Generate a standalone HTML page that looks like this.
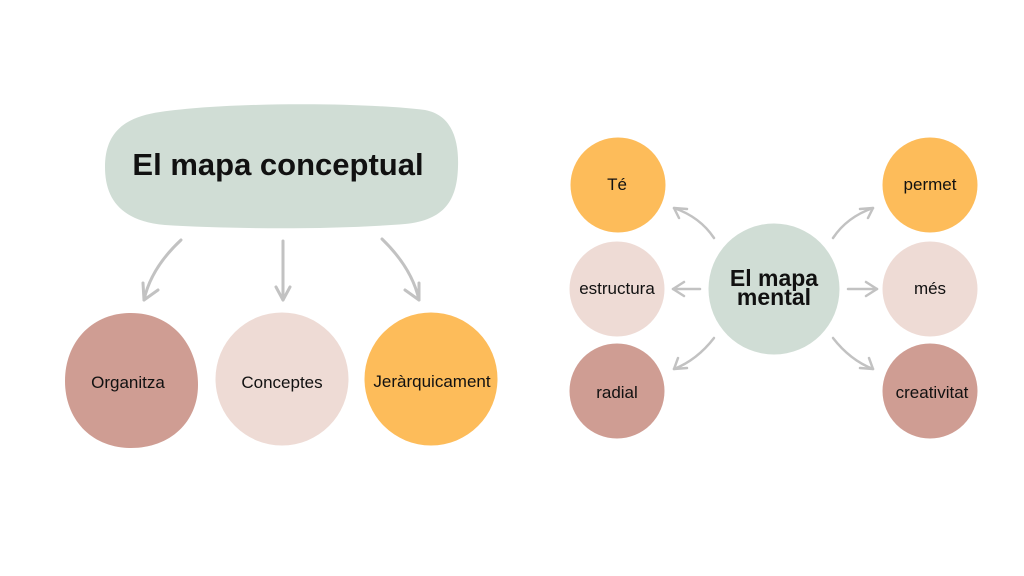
<!DOCTYPE html>
<html><head><meta charset="utf-8"><style>
html,body{margin:0;padding:0;background:#fff;}
svg{display:block;}
text{font-family:"Liberation Sans",Arial,sans-serif;fill:#111;}
</style></head><body>
<svg width="1024" height="576" viewBox="0 0 1024 576" xmlns="http://www.w3.org/2000/svg">
<rect width="1024" height="576" fill="#fff"/>
<!-- Left: concept map -->
<path d="M160,112 C230,102 360,102 425,110 C452,115 459,140 458,167 C457,200 445,220 405,224 C330,230 230,229 165,225 C120,221 105,198 105,167 C105,132 125,117 160,112 Z" fill="#d0ddd5"/>
<text x="278" y="175" font-size="31" font-weight="bold" text-anchor="middle">El mapa conceptual</text>

<g fill="none" stroke="#c2c2c2" stroke-width="3" stroke-linecap="round" stroke-linejoin="round">
<path d="M181,240 Q151,268 144,300"/>
<path d="M143,283 L144,300 L158,290"/>
<path d="M283,241 L283,300"/>
<path d="M276,287 L283,300 L290,287"/>
<path d="M382,239 Q412,268 419,300"/>
<path d="M419,283 L419,300 L405,290"/>
</g>

<path d="M131,313 C172,313 198,345 198,385 C198,422 170,448 131,448 C92,448 65,420 65,381 C65,342 92,313 131,313 Z" fill="#cf9d93"/>
<circle cx="282" cy="379" r="66.5" fill="#eedbd5"/>
<circle cx="431" cy="379" r="66.5" fill="#fdbc5a"/>
<text x="128" y="388" font-size="17" text-anchor="middle">Organitza</text>
<text x="282" y="388" font-size="17" text-anchor="middle">Conceptes</text>
<text x="432" y="387" font-size="17" text-anchor="middle">Jeràrquicament</text>

<!-- Right: mind map -->
<circle cx="774" cy="289" r="65.5" fill="#d0ddd5"/>
<text x="774" y="286" font-size="23" font-weight="bold" text-anchor="middle">El mapa</text>
<text x="774" y="305" font-size="23" font-weight="bold" text-anchor="middle">mental</text>

<g fill="none" stroke="#c2c2c2" stroke-width="2.5" stroke-linecap="round" stroke-linejoin="round">
<path d="M714,238 Q700,217 674,208"/>
<path d="M687,209 L674,208 L679,218"/>
<path d="M700,289 L673,289"/>
<path d="M684,282 L673,289 L684,296"/>
<path d="M714,338 Q697,360 674,369"/>
<path d="M678,358 L674,369 L687,368"/>
<path d="M833,238 Q847,217 873,208"/>
<path d="M860,209 L873,208 L868,218"/>
<path d="M848,289 L877,289"/>
<path d="M866,282 L877,289 L866,296"/>
<path d="M833,338 Q850,360 873,369"/>
<path d="M869,358 L873,369 L860,368"/>
</g>

<circle cx="618" cy="185" r="47.5" fill="#fdbc5a"/>
<circle cx="617" cy="289" r="47.5" fill="#eedbd5"/>
<circle cx="617" cy="391" r="47.5" fill="#cf9d93"/>
<circle cx="930" cy="185" r="47.5" fill="#fdbc5a"/>
<circle cx="930" cy="289" r="47.5" fill="#eedbd5"/>
<circle cx="930" cy="391" r="47.5" fill="#cf9d93"/>

<text x="617" y="190" font-size="17" text-anchor="middle">Té</text>
<text x="617" y="294" font-size="17" text-anchor="middle">estructura</text>
<text x="617" y="398" font-size="17" text-anchor="middle">radial</text>
<text x="930" y="190" font-size="17" text-anchor="middle">permet</text>
<text x="930" y="294" font-size="17" text-anchor="middle">més</text>
<text x="932" y="398" font-size="17" text-anchor="middle">creativitat</text>
</svg>
</body></html>
